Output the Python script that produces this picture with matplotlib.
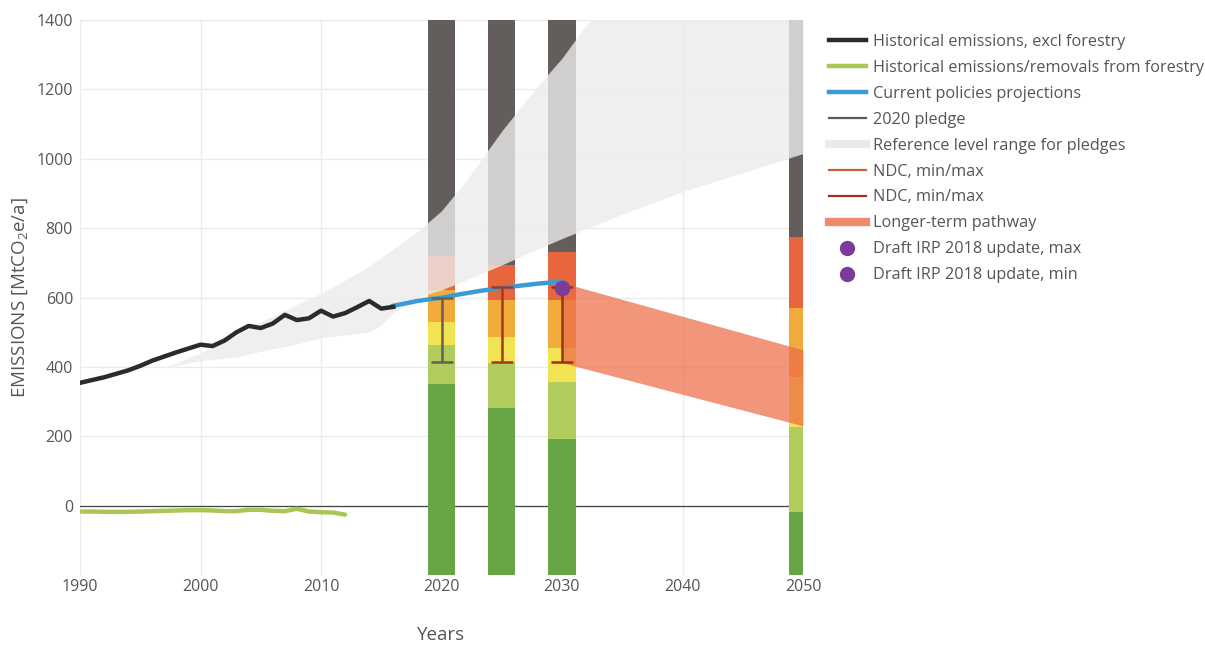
import matplotlib
matplotlib.use("Agg")
import matplotlib.pyplot as plt
from matplotlib.lines import Line2D
import numpy as np

plt.rcParams['font.family'] = ['Open Sans', 'DejaVu Sans']
plt.rcParams['mathtext.fontset'] = 'custom'
plt.rcParams['mathtext.rm'] = 'Open Sans'
plt.rcParams['mathtext.it'] = 'Open Sans'

# ---------------- data ----------------
hist_years = list(range(1990, 2017))
hist_excl_forestry = [354, 362, 370, 380, 390, 403, 418, 430, 442, 453, 464,
                      460, 476, 500, 518, 512, 525, 550, 535, 540, 562,
                      545, 555, 572, 590, 568, 573]

forestry_years = list(range(1990, 2013))
forestry = [-17, -17, -18, -18, -18, -17, -16, -15, -14, -13, -13,
            -14, -16, -16, -12, -12, -15, -16, -9, -17, -19, -20, -26]

cpp_years = list(range(2016, 2031))
cpp_values = [576, 583, 590, 595, 599, 606, 612, 618, 623, 628,
              632, 636, 640, 643, 645]

ref_years = [1997, 2000, 2003, 2005, 2008, 2010, 2012, 2014, 2015, 2016,
             2018, 2020, 2022, 2025, 2028, 2030, 2032, 2035, 2040, 2045, 2050]
ref_lower = [398, 418, 428, 445, 466, 484, 492, 500, 520, 555,
             600, 622, 650, 694, 740, 770, 798, 840, 905, 960, 1015]
ref_upper = [398, 440, 490, 530, 580, 612, 650, 690, 715, 740,
             790, 850, 935, 1080, 1210, 1290, 1385, 1490, 1660, 1830, 2000]

pledge_2020 = (2020, 415, 600)
ndc_2025 = (2025, 415, 630)
ndc_2030 = (2030, 415, 630)

ltp_years = [2030, 2050]
ltp_lower = [412, 230]
ltp_upper = [643, 449]

irp_year = 2030
irp_max = 628
irp_min = 626

bar_years = [2020, 2025, 2030, 2050]
# upper boundaries of each effort-sharing segment (bottom to top)
seg_green_dark = [350, 282, 193, -17]
seg_green_light = [464, 412, 357, 228]
seg_yellow = [530, 487, 455, 372]
seg_orange = [622, 593, 593, 570]
seg_red = [720, 694, 732, 775]
seg_grey = [2000, 2000, 2000, 2000]
seg_colors = ['#67a545', '#b0cc5c', '#f1e352', '#f1aa3c', '#e8663e', '#635d5c']

x_ticks = [1990, 2000, 2010, 2020, 2030, 2040, 2050]
y_ticks = [0, 200, 400, 600, 800, 1000, 1200, 1400]

# ---------------- figure ----------------
fig = plt.figure(figsize=(12.05, 6.45), dpi=100)
ax = fig.add_axes([80 / 1205, 1 - 575 / 645, 723 / 1205, 555 / 645])

ymin, ymax = -200, 1400
ax.set_xlim(1990, 2050)
ax.set_ylim(ymin, ymax)

# bars
segments = [seg_green_dark, seg_green_light, seg_yellow, seg_orange, seg_red, seg_grey]
bottoms = [ymin] * len(bar_years)
for seg, col in zip(segments, seg_colors):
    heights = [t - b for t, b in zip(seg, bottoms)]
    ax.bar(bar_years, heights, bottom=bottoms, width=2.25, color=col,
           linewidth=0, zorder=1)
    bottoms = list(seg)

# reference level range
ax.fill_between(ref_years, ref_lower, ref_upper, color='#ececec', alpha=0.8,
                linewidth=0, zorder=2)

# longer-term pathway
ax.fill_between(ltp_years, ltp_lower, ltp_upper, color='#ec6c48', alpha=0.72,
                linewidth=0, zorder=3)

# zero line
ax.axhline(0, color='#444444', linewidth=0.9, zorder=0.8)

# lines
ax.plot(forestry_years, forestry, color='#a9c853', linewidth=3.2, zorder=4,
        solid_capstyle='round')
ax.plot(cpp_years, cpp_values, color='#3b9bd6', linewidth=3.2, zorder=4)
ax.plot(hist_years, hist_excl_forestry, color='#2b2b2b', linewidth=3.2, zorder=5,
        solid_joinstyle='round')

# pledges
for (yr, lo, hi), col in [(pledge_2020, '#6b5d4f'), (ndc_2025, '#a33a1c'),
                          (ndc_2030, '#9b3317')]:
    ax.errorbar([yr], [(lo + hi) / 2], yerr=[[(hi - lo) / 2], [(hi - lo) / 2]],
                fmt='none', ecolor=col, elinewidth=1.8, capsize=8, capthick=1.8,
                zorder=6)

ax.plot([irp_year], [irp_min], 'o', color='#7b3b98', markersize=10, zorder=7)
ax.plot([irp_year], [irp_max], 'o', color='#7b3b98', markersize=10, zorder=7)

# axes styling
ax.set_xticks(x_ticks)
ax.set_yticks(y_ticks)
ax.grid(True, color='#ebebeb', linewidth=1)
ax.set_axisbelow(True)
for s in ax.spines.values():
    s.set_visible(False)
ax.tick_params(axis='x', length=0, labelsize=11.5, labelcolor='#555555', pad=3)
ax.tick_params(axis='y', length=0, labelsize=11.5, labelcolor='#555555', pad=5)
ax.set_xlabel('Years', fontsize=13.5, color='#555555', labelpad=22)
ax.set_ylabel(r'EMISSIONS [MtCO$_\mathregular{2}$e/a]', fontsize=13.5,
              color='#555555', labelpad=5)

# legend
handles = [
    Line2D([], [], color='#2b2b2b', lw=3.2),
    Line2D([], [], color='#a9c853', lw=3.2),
    Line2D([], [], color='#3b9bd6', lw=3.2),
    Line2D([], [], color='#5a5a5a', lw=1.6),
    Line2D([], [], color='#ebebeb', lw=6),
    Line2D([], [], color='#c4623f', lw=1.6),
    Line2D([], [], color='#a2301c', lw=1.6),
    Line2D([], [], color='#f08a6c', lw=6),
    Line2D([], [], color='#7b3b98', lw=0, marker='o', markersize=10),
    Line2D([], [], color='#7b3b98', lw=0, marker='o', markersize=10),
]
labels = [
    'Historical emissions, excl forestry',
    'Historical emissions/removals from forestry',
    'Current policies projections',
    '2020 pledge',
    'Reference level range for pledges',
    'NDC, min/max',
    'NDC, min/max',
    'Longer-term pathway',
    'Draft IRP 2018 update, max',
    'Draft IRP 2018 update, min',
]
leg = fig.legend(handles, labels, loc='upper left',
                 bbox_to_anchor=(829 / 1205, 1 - 34 / 645),
                 frameon=False, fontsize=11.7, handlelength=2.25,
                 handletextpad=0.45, labelspacing=0.61, borderaxespad=0,
                 borderpad=0, numpoints=1)
for t in leg.get_texts():
    t.set_color('#555555')

fig.savefig('out.png', dpi=100)
